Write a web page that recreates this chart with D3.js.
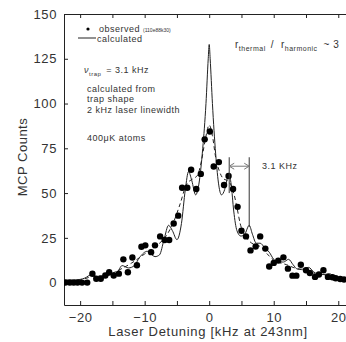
<!DOCTYPE html>
<html>
<head>
<meta charset="utf-8">
<script src="https://cdn.jsdelivr.net/npm/d3@7"></script>
<style>
  body { margin: 0; background: #fff; }
  svg { display: block; }
  text { font-family: "Liberation Sans", Arial, sans-serif; fill: #333; }
  .note { letter-spacing: 0.5px; }
</style>
</head>
<body>
<div id="chart"></div>
<script>
// observed MCP counts (dots)
const obsX = [-22.3,-21.6,-21.0,-20.4,-19.7,-18.9,-18.1,-17.5,-16.8,-16.1,-15.5,-14.8,-14.0,-13.3,-12.6,-11.9,-11.2,-10.5,-9.9,-9.0,-8.4,-7.6,-6.9,-6.2,-5.5,-4.8,-4.2,-3.4,-2.8,-2.0,-1.3,-0.7,0.1,0.7,1.5,2.3,3.0,3.7,4.4,5.0,5.7,6.4,7.2,7.9,8.7,9.3,10.0,10.7,11.5,12.2,12.9,13.5,14.2,15.0,15.6,16.4,17.0,17.7,18.4,19.1,19.6,20.3,20.9];
const obsY = [0,0,0,0,0,0,5,2.2,2.2,4,5.8,4,5,13,5.8,14,9.7,20,20.8,17,20.8,25.8,23.8,23.8,33,37.4,53,53,63,52.3,60.7,80,84.4,64.8,67.3,54.5,59.5,52.3,42.3,29,25.8,18,20.2,25.8,19,9,11,12.3,14.1,7.8,3.9,3.9,10,6.9,5.4,3.2,4.5,6.9,3.2,3,2.4,2,1.7];

// calculated (solid)
const calcX = [-22.5,-21,-20,-19.3,-18.2,-17,-16,-15,-14.3,-13.5,-12.5,-11.6,-10.8,-9.6,-8.4,-7.7,-7,-6.3,-5.7,-5,-4.3,-3.7,-3.2,-2.7,-2.1,-1.6,-1,-0.5,-0.15,0,0.15,0.5,1,1.5,1.9,2.4,2.8,3.1,3.4,3.8,4.3,4.9,5.5,6.2,6.7,7.3,7.9,8.6,9.3,10,10.7,11.5,12.3,13,13.7,14.5,15.4,16.2,17,17.8,18.6,19.4,20.3,21.5,22.5];
const calcY = [1.5,1.5,1.8,2.5,4.5,2.5,3.5,4.8,5.5,9.5,8.2,9.5,14,17.5,14.5,15.5,24,32,29,24,33,52,62,57,49,55,75,100,125,133,125,100,72,54,49,52,58,60,55,40,29,26,27,32,27,22,22,19.5,17,13,11.5,11.5,13,10,7.5,7.5,8.5,6,4.5,4.5,5,3.5,2.5,2,2];

// dashed curve
const fitX = [-22.5,-20,-18,-16,-14,-12,-10,-8,-6.5,-5.5,-4.5,-3.5,-2.5,-1.8,-1.2,-0.6,0,0.5,1,1.6,2.2,2.8,3.3,3.8,4.3,4.8,5.4,6,6.6,7.3,8,9,10,11,12,13,14,15,16.5,18,20,22.5];
const fitY = [1,1.5,3.5,4,7,11,16,21,27,34,44,55,58,60,68,80,88,82,70,62,58,57,55,50,42,33,27,24,22,21,20,16,12.5,11,10,8.5,7.5,6.5,5,4,2.5,1.5];

const xTicks = d3.range(-20, 21, 5);
const yTicks = [0, 25, 50, 75, 100, 125, 150];

const width = 346, height = 342;
const margin = { left: 64, top: 14, bottom: 37 };

const svg = d3.select('#chart').append('svg')
  .attr('width', width)
  .attr('height', height);

const x = d3.scaleLinear().domain([-22.5, 22.5]).range([margin.left, 354.4]);
const y = d3.scaleLinear().domain([-12.5, 150]).range([height - margin.bottom, margin.top]);

svg.append('clipPath').attr('id', 'plot')
  .append('rect')
  .attr('x', margin.left).attr('y', margin.top)
  .attr('width', width - margin.left).attr('height', height - margin.bottom - margin.top);

// axes
const axisStyle = g => {
  g.selectAll('path, line').attr('stroke', '#222').attr('stroke-width', 1);
  g.selectAll('text').attr('font-size', 13).attr('fill', '#444')
    .style('font-family', '"Liberation Sans", Arial, sans-serif')
    .style('letter-spacing', '0.6px');
};

svg.append('g')
  .attr('transform', `translate(0,${y(-12.5)})`)
  .call(d3.axisBottom(x).tickValues(xTicks).tickSizeInner(-4).tickSizeOuter(0).tickPadding(8)
    .tickFormat(d => d % 10 === 0 ? d3.format('')(d) : ''))
  .call(axisStyle);

svg.append('g')
  .attr('transform', `translate(0,${y(150)})`)
  .call(d3.axisTop(x).tickValues(xTicks).tickSizeInner(-4).tickSizeOuter(0).tickFormat(''))
  .call(axisStyle);

svg.append('g')
  .attr('transform', `translate(${margin.left},0)`)
  .call(d3.axisLeft(y).tickValues(yTicks).tickSizeInner(-4).tickSizeOuter(0).tickPadding(7))
  .call(axisStyle);

// axis titles
svg.append('text')
  .attr('x', 208).attr('y', 336)
  .attr('text-anchor', 'middle').attr('font-size', 13)
  .attr('fill', '#444').style('letter-spacing', '0.7px')
  .text('Laser Detuning [kHz at 243nm]');

svg.append('text')
  .attr('transform', 'translate(27,157) rotate(-90)')
  .attr('text-anchor', 'middle').attr('font-size', 13)
  .attr('fill', '#444').style('letter-spacing', '0.5px')
  .text('MCP Counts');

// curves
const plot = svg.append('g').attr('clip-path', 'url(#plot)');

const line = d3.line()
  .x(d => x(d[0]))
  .y(d => y(d[1]))
  .curve(d3.curveMonotoneX);

plot.append('path')
  .attr('d', line(fitX.map((v, i) => [v, fitY[i]])))
  .attr('fill', 'none')
  .attr('stroke', '#222')
  .attr('stroke-width', 1)
  .attr('stroke-dasharray', '4,3');

plot.append('path')
  .attr('d', line(calcX.map((v, i) => [v, calcY[i]])))
  .attr('fill', 'none')
  .attr('stroke', '#222')
  .attr('stroke-width', 1);

plot.selectAll('circle.obs')
  .data(obsX.map((v, i) => [v, obsY[i]]))
  .join('circle')
  .attr('class', 'obs')
  .attr('cx', d => x(d[0]))
  .attr('cy', d => y(d[1]))
  .attr('r', 3.2)
  .attr('fill', '#000');

// legend
svg.append('circle').attr('cx', 88).attr('cy', 29).attr('r', 1.6).attr('fill', '#000');
svg.append('text').attr('class', 'note').attr('x', 99).attr('y', 32).attr('font-size', 9).text('observed');
svg.append('text').attr('x', 143).attr('y', 32).attr('font-size', 5).text('(110e88k30)');
svg.append('line').attr('x1', 78).attr('x2', 96).attr('y1', 38).attr('y2', 38)
  .attr('stroke', '#222').attr('stroke-width', 1);
svg.append('text').attr('class', 'note').attr('x', 97).attr('y', 42).attr('font-size', 9).text('calculated');

// annotations
const nu = svg.append('text').attr('class', 'note').attr('x', 84).attr('y', 73).attr('font-size', 9);
nu.append('tspan').style('font-style', 'italic').text('ν');
nu.append('tspan').attr('font-size', 6).attr('dy', 3).text('trap');
nu.append('tspan').attr('dy', -3).attr('dx', 5).text('=  3.1  kHz');

svg.append('text').attr('class', 'note').attr('x', 87).attr('y', 92).attr('font-size', 9).text('calculated from');
svg.append('text').attr('class', 'note').attr('x', 87).attr('y', 102).attr('font-size', 9).text('trap shape');
svg.append('text').attr('class', 'note').attr('x', 87).attr('y', 113).attr('font-size', 9).text('2 kHz  laser  linewidth');
svg.append('text').attr('class', 'note').attr('x', 87).attr('y', 141).attr('font-size', 9).text('400μK  atoms');

const ratio = svg.append('text').attr('class', 'note').attr('x', 235).attr('y', 48).attr('font-size', 10);
ratio.append('tspan').text('r');
ratio.append('tspan').attr('font-size', 7).attr('dy', 3).text('thermal');
ratio.append('tspan').attr('dy', -3).attr('dx', 5).text('/');
ratio.append('tspan').attr('dx', 7).text('r');
ratio.append('tspan').attr('font-size', 7).attr('dy', 3).text('harmonic');
ratio.append('tspan').attr('dy', -3).attr('dx', 6).text('~  3');

// 3.1 kHz spacing marker
const ann = svg.append('g').attr('stroke', '#333').attr('stroke-width', 1).attr('fill', 'none');
ann.append('line').attr('x1', x(3.1)).attr('x2', x(3.1)).attr('y1', y(70)).attr('y2', y(50));
ann.append('line').attr('x1', x(6.2)).attr('x2', x(6.2)).attr('y1', y(70)).attr('y2', y(31));
const ay = y(65);
ann.append('line').attr('x1', x(3.1)).attr('x2', x(6.2)).attr('y1', ay).attr('y2', ay).attr('stroke', '#777');
ann.append('path').attr('stroke', '#777')
  .attr('d', `M${x(3.1) + 5},${ay - 3}L${x(3.1)},${ay}L${x(3.1) + 5},${ay + 3}` +
             `M${x(6.2) - 5},${ay - 3}L${x(6.2)},${ay}L${x(6.2) - 5},${ay + 3}`);
svg.append('text').attr('class', 'note').attr('x', 262).attr('y', 169).attr('font-size', 9).text('3.1  KHz');
</script>
</body>
</html>
